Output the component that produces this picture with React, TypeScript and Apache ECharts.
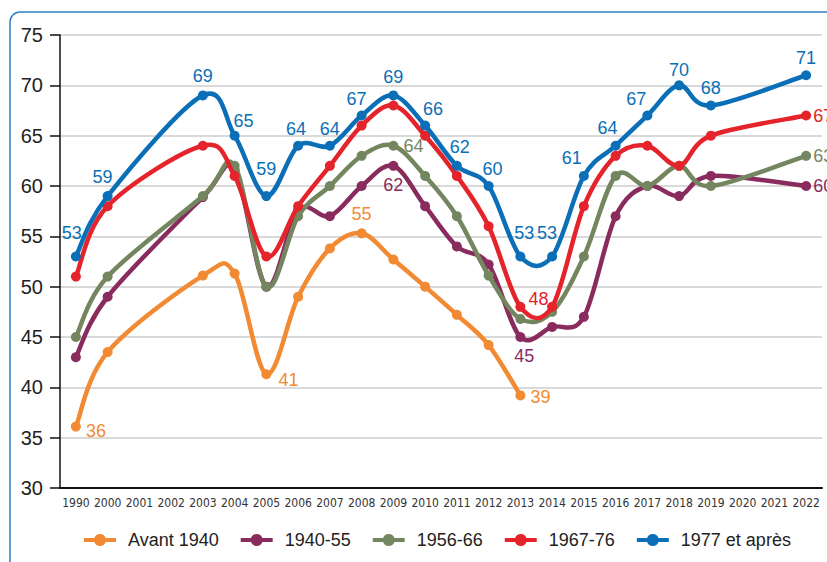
import React, { useEffect, useRef } from "react";
import * as echarts from "echarts";

const years = ["1990", "2000", "2001", "2002", "2003", "2004", "2005", "2006", "2007", "2008", "2009", "2010", "2011", "2012", "2013", "2014", "2015", "2016", "2017", "2018", "2019", "2020", "2021", "2022"];

const avant1940 = [36.1, 43.5, null, null, 51.1, 51.3, 41.3, 49, 53.8, 55.3, 52.7, 50, 47.2, 44.2, 39.2, null, null, null, null, null, null, null, null, null];
const s1940_55 = [43, 49, null, null, 58.9, 61.6, 50, 57.6, 57, 60, 62, 58, 54, 52.2, 45, 46, 47, 57, 60, 59, 61, null, null, 60];
const s1956_66 = [45, 51, null, null, 59, 62, 50, 57, 60, 63, 64, 61, 57, 51.1, 46.8, 47.5, 53, 61, 60, 62, 60, null, null, 63];
const s1967_76 = [51, 58, null, null, 64, 61, 53, 58, 62, 66, 68, 65, 61, 56, 48, 48, 58, 63, 64, 62, 65, null, null, 67];
const s1977 = [53, 59, null, null, 69, 65, 59, 64, 64, 67, 69, 66, 62, 60, 53, 53, 61, 64, 67, 70, 68, null, null, 71];

const seriesNames = ["Avant 1940", "1940-55", "1956-66", "1967-76", "1977 et après"];
const seriesValues = [avant1940, s1940_55, s1956_66, s1967_76, s1977];
const colors = ["#F18A33", "#8A2B5E", "#73865F", "#E4232A", "#0A6FB7"];

// label styling per series: index -> [position, offsetX, offsetY]
const labelSpecs: Record<number, [string, number, number]>[] = [
  { 0: ["right", 0, 4], 6: ["right", 2, 6], 9: ["top", 0, 0], 14: ["right", 0, 2] },
  { 10: ["bottom", 0, 0], 14: ["bottom", 4, 0], 23: ["right", -3, 0] },
  { 10: ["right", 0, 0], 23: ["right", -3, 0] },
  { 14: ["right", -2, -8], 23: ["right", -3, 0] },
  {
    0: ["top", -4, -4], 1: ["top", -5, 0], 4: ["top", 0, 0], 5: ["top", 9, 4], 6: ["top", 0, -8], 7: ["top", -2, 2],
    8: ["top", 0, 2], 9: ["top", -5, 2], 10: ["top", 0, 1], 11: ["top", 8, 2], 12: ["top", 3, 0], 13: ["top", 4, 2],
    14: ["top", 4, -4], 15: ["top", -5, -4], 16: ["top", -12, 1], 17: ["top", -8, 1], 18: ["top", -11, 2],
    19: ["top", 0, 4], 20: ["top", 0, 2], 23: ["top", 0, 2],
  },
];

const FONT = "'Liberation Sans', Arial, sans-serif";
const NARROW = "'Liberation Sans Narrow', 'DejaVu Sans Condensed', 'Liberation Sans', sans-serif";

function smoothPath(pts: number[][]): string {
  if (pts.length === 0) return "";
  let d = `M${pts[0][0]},${pts[0][1]}`;
  for (let i = 0; i < pts.length - 1; i++) {
    const p0 = pts[i - 1] || pts[i];
    const p1 = pts[i];
    const p2 = pts[i + 1];
    const p3 = pts[i + 2] || p2;
    const k = 1 / 6;
    const c1x = p1[0] + (p2[0] - p0[0]) * k;
    const c1y = p1[1] + (p2[1] - p0[1]) * k;
    const c2x = p2[0] - (p3[0] - p1[0]) * k;
    const c2y = p2[1] - (p3[1] - p1[1]) * k;
    d += ` C${c1x},${c1y} ${c2x},${c2y} ${p2[0]},${p2[1]}`;
  }
  return d;
}

const LEGEND_ICON =
  "path://M0,4 L10.34,4 A6,6 0 0,1 21.66,4 L32,4 L32,8 L21.66,8 A6,6 0 0,1 10.34,8 L0,8 Z";

export default function App() {
  const ref = useRef<HTMLDivElement>(null);
  useEffect(() => {
    document.body.style.margin = "0";
    if (!ref.current) return;
    const chart = echarts.init(ref.current, null, { renderer: "svg" });
    const series: any[] = [];
    seriesNames.forEach((name, si) => {
      const vals = seriesValues[si];
      const pairs = vals.map((v, i) => (v === null ? null : [i, v])).filter((p) => p !== null) as number[][];
      series.push({
        name,
        type: "custom",
        z: 2 + si * 2,
        silent: true,
        clip: false,
        data: pairs,
        encode: { x: 0, y: 1 },
        itemStyle: { color: colors[si] },
        renderItem: (params: any, api: any) => {
          if (params.dataIndex !== 0) return null;
          const pts = pairs.map((p) => api.coord([p[0], p[1]]));
          return {
            type: "path",
            shape: { pathData: smoothPath(pts) },
            style: { fill: "none", stroke: colors[si], lineWidth: 4.5, lineJoin: "round", lineCap: "round" },
          };
        },
      });
      series.push({
        name,
        type: "line",
        connectNulls: true,
        symbol: "circle",
        symbolSize: 10,
        lineStyle: { width: 0, opacity: 0, color: colors[si] },
        itemStyle: { color: colors[si] },
        z: 3 + si * 2,
        data: vals.map((v, i) => {
          const spec = labelSpecs[si][i];
          if (v === null) return null;
          if (!spec) return { value: v };
          return {
            value: v,
            label: {
              show: true,
              position: spec[0],
              offset: [spec[1], spec[2]],
              distance: 5,
              color: colors[si],
              fontSize: 18,
              fontFamily: FONT,
              formatter: (p: any) => String(Math.round(p.value)),
            },
          };
        }),
      });
    });
    chart.setOption({
      animation: false,
      backgroundColor: "#ffffff",
      color: colors,
      graphic: [
        {
          type: "rect",
          shape: { x: 10, y: 12, width: 900, height: 700, r: 10 },
          style: { fill: "none", stroke: "#2E80C6", lineWidth: 1.5 },
          z: 0,
          silent: true,
        },
      ],
      grid: { left: 60, right: 5, top: 35, bottom: 74 },
      legend: {
        bottom: 8,
        left: 79,
        itemWidth: 32,
        itemHeight: 12,
        itemGap: 22,
        icon: LEGEND_ICON,
        data: seriesNames.map((n, i) => ({ name: n, icon: LEGEND_ICON, itemStyle: { color: colors[i] } })),
        textStyle: { fontSize: 18, fontFamily: FONT, color: "#222", padding: [0, 0, 0, 7] },
      },
      xAxis: {
        type: "category",
        data: years,
        boundaryGap: true,
        axisLine: { lineStyle: { color: "#111", width: 2 } },
        axisTick: { show: false },
        axisLabel: { interval: 0, fontSize: 12, fontFamily: NARROW, color: "#333", margin: 9 },
      },
      yAxis: {
        type: "value",
        min: 30,
        max: 75,
        interval: 5,
        axisLine: { show: true, lineStyle: { color: "#111", width: 1.5 } },
        axisTick: { show: true, length: 10, lineStyle: { color: "#111", width: 1.5 } },
        axisLabel: { fontSize: 20, fontFamily: FONT, color: "#222", margin: 17 },
        splitLine: { lineStyle: { color: "#cccccc", width: 1.5 } },
      },
      series,
    });
    return () => chart.dispose();
  }, []);
  return <div ref={ref} style={{ position: "absolute", left: 0, top: 0, width: 827, height: 562 }} />;
}
